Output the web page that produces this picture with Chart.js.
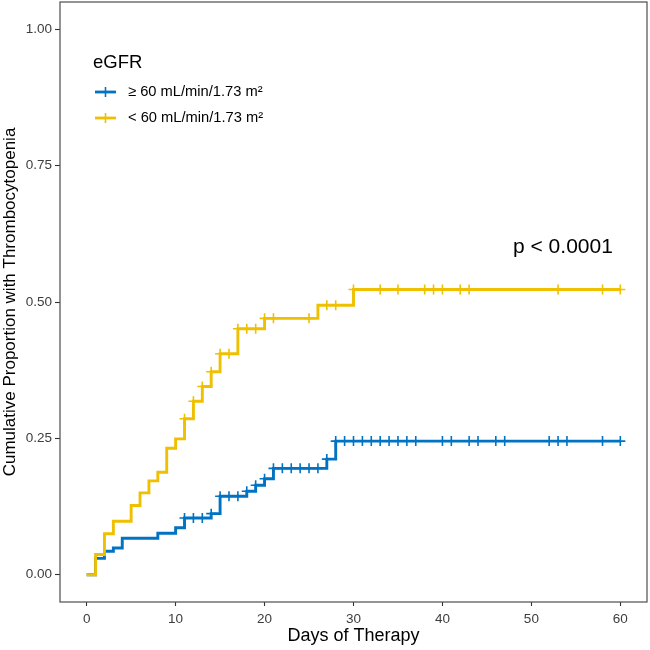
<!DOCTYPE html>
<html>
<head>
<meta charset="utf-8">
<script src="https://cdn.jsdelivr.net/npm/chart.js@4.4.1/dist/chart.umd.min.js"></script>
<style>
  html, body { margin: 0; padding: 0; background: #fff; }
  #wrap { width: 650px; height: 650px; }
</style>
</head>
<body>
<div id="wrap"><canvas id="kmChart" width="650" height="650"></canvas></div>
<script>
// eGFR >= 60 group (step curve: day, cumulative proportion)
const highTimes  = [0, 1, 2, 3, 4, 8, 10, 11, 14, 15, 18, 19, 20, 21, 27, 28, 60];
const highValues = [0, 0.030, 0.043, 0.049, 0.067, 0.076, 0.086, 0.104, 0.112, 0.144, 0.153, 0.164, 0.176, 0.195, 0.212, 0.245, 0.245];
const highCensor = [11, 12, 13, 14, 15, 16, 17, 18, 19, 20, 21, 22, 23, 24, 25, 26, 27, 28, 29, 30, 31, 32, 33, 34, 35, 36, 37, 40, 41, 43, 44, 46, 47, 52, 53, 54, 58, 60];

// eGFR < 60 group
const lowTimes  = [0, 1, 2, 3, 5, 6, 7, 8, 9, 10, 11, 12, 13, 14, 15, 17, 20, 26, 30, 60];
const lowValues = [0, 0.037, 0.075, 0.098, 0.127, 0.150, 0.172, 0.188, 0.232, 0.249, 0.286, 0.318, 0.345, 0.372, 0.405, 0.451, 0.470, 0.494, 0.523, 0.523];
const lowCensor = [11, 12, 13, 14, 15, 16, 17, 18, 19, 20, 21, 25, 27, 28, 30, 33, 35, 38, 39, 40, 42, 43, 53, 58, 60];

const xTicks = [0, 10, 20, 30, 40, 50, 60];
const yTicks = [0, 0.25, 0.5, 0.75, 1];
const groupLabels = ['≥ 60 mL/min/1.73 m²', '< 60 mL/min/1.73 m²'];
const legendTitle = 'eGFR';
const pValueText = 'p < 0.0001';

const BLUE = '#0073C2';
const GOLD = '#EFC000';
const FONT = '"Liberation Sans", Arial, sans-serif';

function toPoints(times, values) {
  return times.map((t, i) => ({ x: t, y: values[i] }));
}

// censor marks sit on the curve, so take the step value at that day
function onCurve(times, values, censor) {
  return censor.map(t => {
    let v = values[0];
    for (let i = 0; i < times.length; i++) {
      if (times[i] <= t) v = values[i];
    }
    return { x: t, y: v };
  });
}

// box, legend and p value
const overlay = {
  id: 'overlay',
  afterDraw(chart) {
    const { ctx, chartArea: a } = chart;
    ctx.save();
    ctx.strokeStyle = '#4d4d4d';
    ctx.lineWidth = 1.2;
    ctx.strokeRect(a.left, a.top, a.right - a.left, a.bottom - a.top);

    ctx.fillStyle = '#000';
    ctx.textBaseline = 'middle';
    ctx.font = '18.5px ' + FONT;
    ctx.fillText(legendTitle, 93, 63);

    const rows = [[BLUE, groupLabels[0], 92], [GOLD, groupLabels[1], 118]];
    rows.forEach(([color, label, y]) => {
      ctx.strokeStyle = color;
      ctx.lineWidth = 2.8;
      ctx.beginPath();
      ctx.moveTo(95, y);
      ctx.lineTo(116, y);
      ctx.stroke();
      ctx.lineWidth = 1.6;
      ctx.beginPath();
      ctx.moveTo(105.5, y - 5);
      ctx.lineTo(105.5, y + 5);
      ctx.stroke();
      ctx.fillStyle = '#000';
      ctx.font = '14.7px ' + FONT;
      ctx.fillText(label, 128, y);
    });

    ctx.font = '21px ' + FONT;
    ctx.fillText(pValueText, 513, 247);
    ctx.restore();
  }
};

new Chart(document.getElementById('kmChart'), {
  type: 'line',
  data: {
    datasets: [
      {
        label: groupLabels[1],
        data: toPoints(lowTimes, lowValues),
        borderColor: GOLD,
        borderWidth: 2.9,
        stepped: 'before',
        pointRadius: 0,
        fill: false,
        order: 1
      },
      {
        label: groupLabels[1] + ' censored',
        data: onCurve(lowTimes, lowValues, lowCensor),
        showLine: false,
        pointStyle: 'cross',
        pointRadius: 5,
        borderColor: GOLD,
        borderWidth: 1.6,
        order: 0
      },
      {
        label: groupLabels[0],
        data: toPoints(highTimes, highValues),
        borderColor: BLUE,
        borderWidth: 2.9,
        stepped: 'before',
        pointRadius: 0,
        fill: false,
        order: 3
      },
      {
        label: groupLabels[0] + ' censored',
        data: onCurve(highTimes, highValues, highCensor),
        showLine: false,
        pointStyle: 'cross',
        pointRadius: 5,
        borderColor: BLUE,
        borderWidth: 1.6,
        order: 2
      }
    ]
  },
  options: {
    responsive: false,
    animation: false,
    layout: { autoPadding: false, padding: { top: 2, right: 3, left: 0, bottom: 0 } },
    plugins: {
      legend: { display: false },
      tooltip: { enabled: false }
    },
    scales: {
      x: {
        type: 'linear',
        min: -3,
        max: 63,
        afterBuildTicks: axis => { axis.ticks = xTicks.map(v => ({ value: v })); },
        afterFit: axis => { axis.height = 48; axis.paddingLeft = 0; axis.paddingRight = 0; },
        grid: { drawOnChartArea: false, tickLength: 4, tickColor: '#333', tickWidth: 1.1 },
        border: { display: false },
        ticks: { color: '#3d3d3d', font: { family: FONT, size: 13.5 }, padding: 5, maxRotation: 0 },
        title: { display: true, text: 'Days of Therapy', color: '#000', font: { family: FONT, size: 18 }, padding: { top: 0, bottom: 3 } }
      },
      y: {
        type: 'linear',
        min: -0.05,
        max: 1.05,
        afterBuildTicks: axis => { axis.ticks = yTicks.map(v => ({ value: v })); },
        afterFit: axis => { axis.width = 60; axis.paddingTop = 0; axis.paddingBottom = 0; },
        grid: { drawOnChartArea: false, tickLength: 5, tickColor: '#333', tickWidth: 1.1 },
        border: { display: false },
        ticks: { color: '#3d3d3d', font: { family: FONT, size: 13.5 }, padding: 3, callback: v => v.toFixed(2) },
        title: { display: true, text: 'Cumulative Proportion with Thrombocytopenia', color: '#000', font: { family: FONT, size: 17 }, padding: { top: 0, bottom: 0 } }
      }
    }
  },
  plugins: [overlay]
});
</script>
</body>
</html>
